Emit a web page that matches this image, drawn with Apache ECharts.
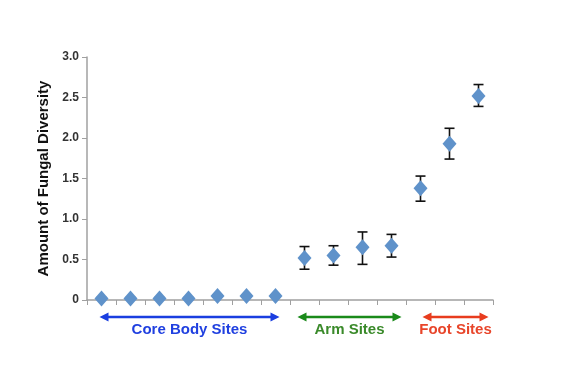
<!DOCTYPE html>
<html><head><meta charset="utf-8">
<script src="https://cdn.jsdelivr.net/npm/echarts@6/dist/echarts.min.js"></script>
<style>html,body{margin:0;padding:0;background:#fff}#c{width:576px;height:383px}</style>
</head><body><div id="c"></div>
<script>
var categories = ['S1','S2','S3','S4','S5','S6','S7','S8','S9','S10','S11','S12','S13','S14'];
var meanValues = [0.02,0.02,0.02,0.02,0.05,0.05,0.05,0.52,0.55,0.65,0.67,1.38,1.93,2.52];
var lowValues  = [0.01,0.01,0.01,0.01,0.04,0.04,0.04,0.38,0.43,0.44,0.53,1.22,1.74,2.39];
var highValues = [0.03,0.03,0.03,0.03,0.06,0.06,0.06,0.66,0.67,0.84,0.81,1.53,2.12,2.66];
var yTicks = [0,0.5,1.0,1.5,2.0,2.5,3.0];
var groupNames = ['Core Body Sites','Arm Sites','Foot Sites'];
var groupFrom = [0,7,11];
var groupTo = [6,10,13];
var groupColors = ['#1a3ee0','#1a8a1a','#e83c1e'];
var groupTextColors = ['#2040e0','#3a8a2a','#e8452a'];

var chart = echarts.init(document.getElementById('c'), null, {renderer:'canvas'});
var errData = categories.map(function(c,i){return [i, lowValues[i], highValues[i]];});
var option = {
  animation:false,
  grid:{left:87,right:83,top:57,bottom:83},
  xAxis:{type:'category',data:categories,boundaryGap:true,
    axisLine:{lineStyle:{color:'#a0a0a0',width:1.5}},
    axisTick:{show:true,length:5,lineStyle:{color:'#a0a0a0'}},
    axisLabel:{show:false},splitLine:{show:false}},
  yAxis:{type:'value',min:yTicks[0],max:yTicks[yTicks.length-1],interval:0.5,
    name:'Amount of Fungal Diversity',nameLocation:'middle',nameGap:35,nameRotate:90,
    nameTextStyle:{fontFamily:'Liberation Sans',fontWeight:'bold',fontSize:15,color:'#111'},
    axisLine:{show:true,lineStyle:{color:'#a0a0a0',width:1.5}},
    axisTick:{show:true,length:5,lineStyle:{color:'#a0a0a0'}},
    axisLabel:{fontFamily:'Liberation Sans',fontWeight:'bold',fontSize:12,color:'#333',margin:8,
      formatter:function(v){return v===0?'0':v.toFixed(1);}},
    splitLine:{show:false}},
  series:[
    {type:'custom',data:errData,z:2,
      renderItem:function(params,api){
        var x=api.value(0);
        var lo=api.coord([x,api.value(1)]);
        var hi=api.coord([x,api.value(2)]);
        var w=5;
        var st={stroke:'#111',lineWidth:1.6,fill:null};
        return {type:'group',children:[
          {type:'line',shape:{x1:lo[0],y1:lo[1],x2:hi[0],y2:hi[1]},style:st},
          {type:'line',shape:{x1:lo[0]-w,y1:lo[1],x2:lo[0]+w,y2:lo[1]},style:st},
          {type:'line',shape:{x1:hi[0]-w,y1:hi[1],x2:hi[0]+w,y2:hi[1]},style:st}
        ]};
      }},
    {type:'scatter',data:meanValues,symbol:'diamond',symbolSize:[14,16],z:3,
      itemStyle:{color:'#5f92ca',opacity:1}}
  ]
};
chart.setOption(option);

var graphics=[];
var y0=chart.convertToPixel({gridIndex:0},[0,0])[1];
var padL=[2,7,-2], padR=[4,10,10];
for(var g=0;g<groupNames.length;g++){
  var xa=chart.convertToPixel({xAxisIndex:0},groupFrom[g])-padL[g];
  var xb=chart.convertToPixel({xAxisIndex:0},groupTo[g])+padR[g];
  var ay=y0+17, col=groupColors[g], h=4.5, L=9;
  graphics.push({type:'line',shape:{x1:xa+L-1,y1:ay,x2:xb-L+1,y2:ay},style:{stroke:col,lineWidth:2.5}});
  graphics.push({type:'polygon',shape:{points:[[xa,ay],[xa+L,ay-h],[xa+L,ay+h]]},style:{fill:col}});
  graphics.push({type:'polygon',shape:{points:[[xb,ay],[xb-L,ay-h],[xb-L,ay+h]]},style:{fill:col}});
  graphics.push({type:'text',x:(xa+xb)/2,y:ay+13,style:{text:groupNames[g],fill:groupTextColors[g],
    font:'bold 15px "Liberation Sans", Arial',textAlign:'center',textVerticalAlign:'middle'}});
}
chart.setOption({graphic:graphics});
</script></body></html>
